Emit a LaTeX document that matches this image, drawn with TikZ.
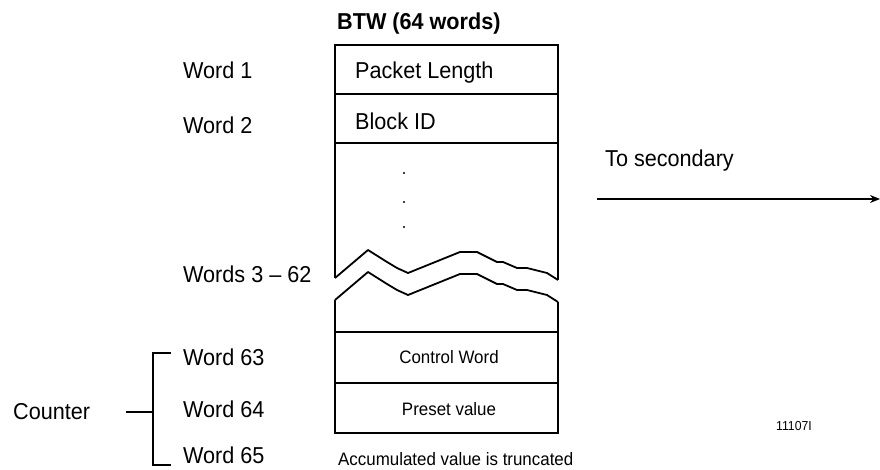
\documentclass[tikz,border=0pt]{standalone}
\usepackage{fontspec}
\setmainfont{Liberation Sans}[FakeStretch=0.94]
\usetikzlibrary{arrows.meta}

\begin{document}
\begin{tikzpicture}[x=1pt,y=-1pt,>=Stealth,
    lbl/.style={inner sep=0pt,anchor=base west,font=\fontsize{23}{27}\selectfont},
    sml/.style={inner sep=0pt,anchor=base,font=\fontsize{18}{21}\selectfont},
    wall/.style={line width=1.8pt}]
        \useasboundingbox (0,0) rectangle (880,470);
        \node[lbl,font=\fontsize{23}{27}\selectfont\bfseries] (title) at (337,30) {BTW (64 words)};
        \node[lbl] (w1) at (183,79) {Word 1};
        \node[lbl] (w2) at (183,134) {Word 2};
        \node[lbl] (w3) at (183,282) {Words 3 -- 62};
        \node[lbl] (w63) at (183,365) {Word 63};
        \node[lbl] (w64) at (183,417) {Word 64};
        \node[lbl] (w65) at (183,463) {Word 65};
        \node[lbl] (counter) at (13,419) {Counter};
        \node[lbl] (pkt) at (355,79) {Packet Length};
        \node[lbl] (blk) at (355,130) {Block ID};
        \node[sml] (ctrl) at (449,363) {Control Word};
        \node[sml] (preset) at (449,415) {Preset value};
        \node[sml,anchor=base west] (accum) at (338,465) {Accumulated value is truncated};
        \node[lbl] (sec) at (605,167) {To secondary};
        \node[inner sep=0pt,anchor=base west,font=\fontsize{13}{15}\selectfont] (fig) at (776,430) {11107I};
        \draw[wall] (335,278) -- (335,45) -- (558,45) -- (558,280);
        \draw[wall] (335,94) -- (558,94);
        \draw[wall] (335,143) -- (558,143);
        \foreach \dy in {0,22}
            \draw[wall,line join=round,shift={(0,\dy)}] (335,278) -- (368,250) -- (387,262) -- (397,268) -- (408,273)
                -- (460,252) -- (477,252) -- (497,262) -- (503,262) -- (517,268) -- (527,268) -- (547,273) -- (558,280);
        \draw[wall] (335,300) -- (335,433) -- (558,433) -- (558,302);
        \draw[wall] (335,332) -- (558,332);
        \draw[wall] (335,383) -- (558,383);
        \foreach \y in {173,202,227}
            \fill (404,\y) circle (1.1);
        \coordinate (top) at (171,353);
        \coordinate (bot) at (171,465);
        \coordinate (brk) at (153,412);
        \coordinate (cnt) at (126,412);
        \draw[wall] (top) -- (153,353) -- (153,465) -- (bot);
        \draw[wall] (cnt) -- (brk);
        \coordinate (src) at (597,199);
        \coordinate (dst) at (880,199);
        \draw[wall,-{Stealth[length=10pt,width=8pt]}] (src) -- (dst);
      \end{tikzpicture}
\end{document}
